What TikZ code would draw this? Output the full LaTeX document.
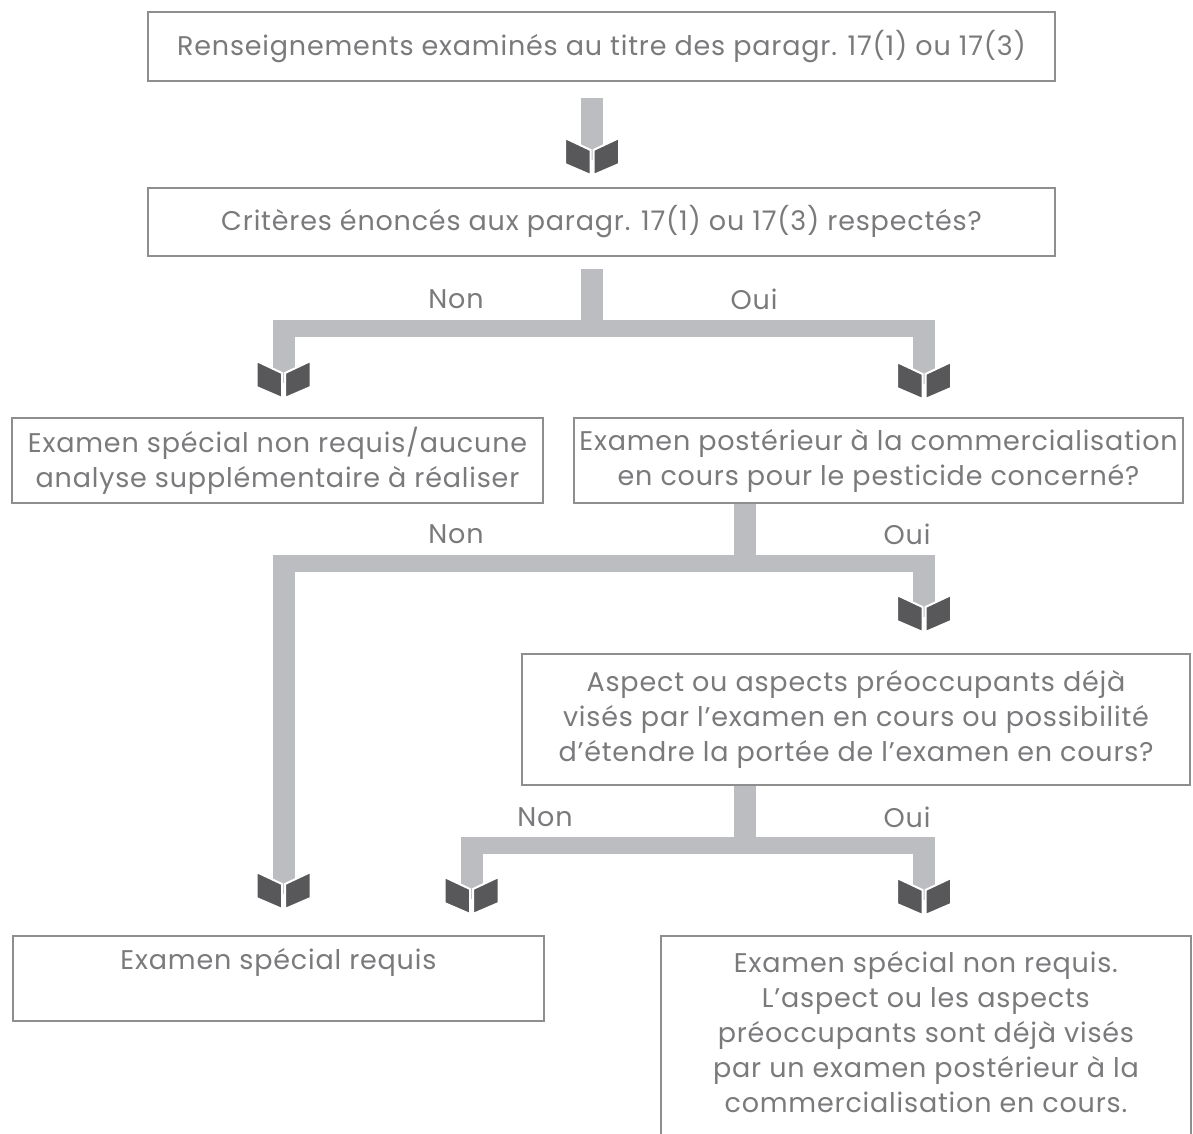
\documentclass[tikz,border=0pt]{standalone}
\usepackage{fontspec}
\setmainfont{Poppins}[LetterSpace=3]
\usetikzlibrary{calc}
\definecolor{boxline}{HTML}{8E8E8F}
\definecolor{inkgrey}{HTML}{7A7A7D}
\definecolor{shaftgrey}{HTML}{BCBDC0}
\definecolor{headgrey}{HTML}{58585A}
\newcommand{\body}{\fontsize{27}{35}\selectfont}

\begin{document}
\begin{tikzpicture}[x=1pt,y=-1pt,font=\body,
  box/.style={draw=boxline,line width=1.8pt,inner sep=0,text=inkgrey,align=center},
  tag/.style={inner sep=0,text=inkgrey,align=center},
  leg/.style={shaftgrey,line width=22pt},
  bar/.style={shaftgrey,line width=17pt},
  bookhead/.pic={\fill[headgrey,draw=white,line width=2pt]
    (-27,0) -- (-1.5,12) -- (-1.5,37) -- (-27,26) -- cycle
    (27,0) -- (1.5,12) -- (1.5,37) -- (27,26) -- cycle;}]
\useasboundingbox (0,0) rectangle (1193,1133);
\clip (0,0) rectangle (1193,1133);
% boxes
\node[box,minimum width=907,minimum height=69] (info) at (601.5,46.5) {Renseignements examinés au titre des paragr. 17(1) ou 17(3)};
\node[box,minimum width=907,minimum height=68] (crit) at (601.5,222) {Critères énoncés aux paragr. 17(1) ou 17(3) respectés?};
\node[box,minimum width=531,minimum height=85] (noexam) at (277.5,460.5) {Examen spécial non requis/aucune\\analyse supplémentaire à réaliser};
\node[box,minimum width=609,minimum height=85] (postmkt) at (878.5,460.5) {Examen postérieur à la commercialisation\\en cours pour le pesticide concerné?};
\node[box,minimum width=668,minimum height=131] (aspect) at (856,719.5) {Aspect ou aspects préoccupants déjà\\visés par l’examen en cours ou possibilité\\d’étendre la portée de l’examen en cours?};
\node[box,minimum width=531,minimum height=85,anchor=north west] (special) at (12,935) {};
\node[tag] (specialtxt) at ($(special.north)+(0,27)$) {Examen spécial requis};
\node[box,minimum width=530,minimum height=230,anchor=north west] (covered) at (660,935) {};
\node[tag] (coveredtxt) at ($(covered.north)+(0,97)$) {Examen spécial non requis.\\L’aspect ou les aspects\\préoccupants sont déjà visés\\par un examen postérieur à la\\commercialisation en cours.};
% heads and joints
\coordinate (h0) at (592,138);
\coordinate (hn1) at (283.5,361);
\coordinate (hy1) at (924,362);
\coordinate (hy2) at (924,595);
\coordinate (hn2) at (283.5,872);
\coordinate (hn3) at (471.5,877);
\coordinate (hy3) at (924,878);
\coordinate (j1) at (591.5,328.5);
\coordinate (j2) at (745,563.5);
\coordinate (j3) at (745,845);
% connectors
\draw[leg] ($(h0 |- info.south)+(0,16)$) -- ($(h0)+(0,22)$);
\draw[leg] ($(j1 |- crit.south)+(0,12)$) -- (j1);
\draw[bar] ($(hn1 |- j1)+(-11,0)$) -- ($(hy1 |- j1)+(11,0)$);
\draw[leg] ($(hn1 |- j1)+(0,-8.5)$) -- ($(hn1)+(0,22)$);
\draw[leg] ($(hy1 |- j1)+(0,-8.5)$) -- ($(hy1)+(0,22)$);
\draw[leg] (j2 |- postmkt.south) -- (j2);
\draw[bar] ($(hn2 |- j2)+(-11,0)$) -- ($(hy2 |- j2)+(11,0)$);
\draw[leg] ($(hn2 |- j2)+(0,-8.5)$) -- ($(hn2)+(0,22)$);
\draw[leg] ($(hy2 |- j2)+(0,-8.5)$) -- ($(hy2)+(0,22)$);
\draw[leg] (j3 |- aspect.south) -- (j3);
\draw[bar] ($(hn3 |- j3)+(-11,0)$) -- ($(hy3 |- j3)+(11,0)$);
\draw[leg] ($(hn3 |- j3)+(0,-8)$) -- ($(hn3)+(0,22)$);
\draw[leg] ($(hy3 |- j3)+(0,-8)$) -- ($(hy3)+(0,22)$);
\foreach \h in {h0,hn1,hy1,hy2,hn2,hn3,hy3} \pic at (\h) {bookhead};
% labels
\node[tag] (non1) at (456,299) {Non};
\node[tag] (oui1) at (754,299) {Oui};
\node[tag] (non2) at (456,534) {Non};
\node[tag] (oui2) at (907,534) {Oui};
\node[tag] (non3) at (545,817) {Non};
\node[tag] (oui3) at (907,817) {Oui};
\end{tikzpicture}
\end{document}
